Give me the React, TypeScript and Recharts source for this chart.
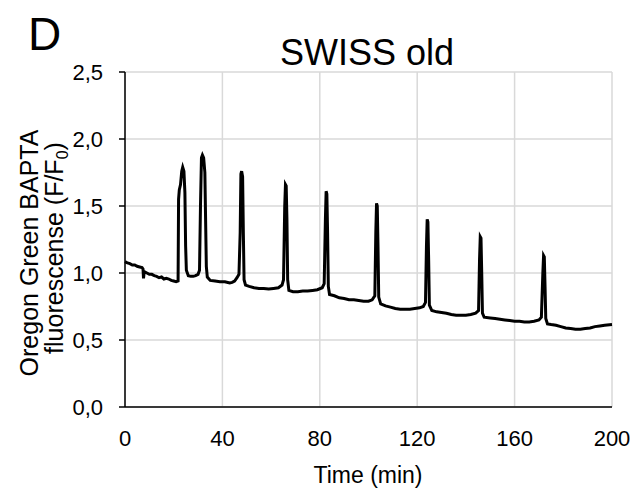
import { LineChart, Line, XAxis, YAxis, CartesianGrid } from 'recharts'

// time (min) and Oregon Green BAPTA F/F0
const TIME = [
  0, 1, 2, 3, 4, 5, 6, 7, 7.4, 7.6, 7.9, 9, 10, 11, 12, 13, 14, 15, 16, 17, 18, 19, 20, 21, 21.8,
  22.0, 22.3, 22.8, 23.3, 23.7, 24.2, 24.6, 24.9, 25.2, 26, 27, 28, 29, 30, 30.6,
  31.0, 31.4, 31.8, 32.3, 32.8, 33.1, 33.4, 33.8, 35, 37, 39, 41, 43, 44, 45, 46, 46.8,
  47.3, 47.6, 47.9, 48.3, 48.6, 48.9, 49.5, 51, 53, 55, 57, 59, 61, 63, 64.5, 65.1,
  65.6, 65.9, 66.2, 66.5, 66.8, 67.3, 69, 71, 73, 75, 77, 79, 81, 81.8,
  82.3, 82.6, 82.9, 83.2, 83.5, 84, 86, 88, 90, 92, 94, 96, 98, 100, 101.5, 102.6,
  103.0, 103.3, 103.6, 103.9, 104.2, 105, 107, 109, 111, 113, 115, 117, 119, 121, 122.5, 123.4,
  123.8, 124.1, 124.4, 124.7, 125, 126, 128, 130, 132, 134, 136, 138, 140, 142, 144, 145.2,
  145.6, 145.9, 146.2, 146.5, 146.8, 147.5, 150, 152, 154, 156, 158, 160, 162, 164, 166, 168, 170, 171,
  171.6, 171.9, 172.2, 172.5, 172.8, 173.5, 175, 177, 179, 181, 183, 185, 187, 189, 191, 193, 195, 197, 200,
]
const RATIO = [
  1.085, 1.075, 1.07, 1.06, 1.06, 1.05, 1.045, 1.04, 1.03, 0.96, 1.01, 1.0, 0.99, 0.99, 0.98, 0.975, 0.965, 0.97, 0.955, 0.96, 0.955, 0.945, 0.94, 0.935, 0.94,
  1.55, 1.62, 1.66, 1.76, 1.79, 1.76, 1.6, 1.2, 1.02, 0.98, 0.975, 0.975, 0.98, 0.99, 1.02,
  1.5, 1.86, 1.88, 1.86, 1.75, 1.4, 1.05, 0.97, 0.945, 0.94, 0.935, 0.935, 0.925, 0.93, 0.94, 0.965, 0.99,
  1.3, 1.74, 1.76, 1.72, 1.3, 0.95, 0.91, 0.9, 0.89, 0.885, 0.885, 0.88, 0.885, 0.89, 0.91, 0.95,
  1.5, 1.66, 1.65, 1.4, 0.95, 0.87, 0.86, 0.86, 0.865, 0.865, 0.87, 0.875, 0.89, 0.92,
  1.4, 1.61, 1.59, 1.3, 0.9, 0.84, 0.83, 0.815, 0.81, 0.8, 0.8, 0.795, 0.79, 0.79, 0.8, 0.83,
  1.3, 1.52, 1.5, 1.2, 0.82, 0.77, 0.755, 0.745, 0.735, 0.73, 0.73, 0.73, 0.735, 0.74, 0.75, 0.78,
  1.2, 1.4, 1.38, 1.1, 0.76, 0.72, 0.71, 0.705, 0.7, 0.69, 0.685, 0.685, 0.685, 0.69, 0.7, 0.72,
  1.1, 1.27, 1.26, 1.0, 0.7, 0.67, 0.665, 0.66, 0.655, 0.65, 0.645, 0.64, 0.64, 0.635, 0.635, 0.64, 0.65, 0.67,
  1.0, 1.13, 1.12, 0.9, 0.66, 0.62, 0.615, 0.61, 0.6, 0.59, 0.585, 0.58, 0.58, 0.585, 0.59, 0.6, 0.605, 0.61, 0.615,
]
const X_TICKS = [0, 40, 80, 120, 160, 200]
const Y_TICKS = [0, 0.5, 1, 1.5, 2, 2.5]

const data = TIME.map((t, i) => ({ t, v: RATIO[i] }))

const FONT = '"Liberation Sans", Arial, sans-serif'
const tickStyle = { fill: '#000', fontSize: 22, fontFamily: FONT }

export default function App() {
  return (
    <div style={{ position: 'absolute', left: 0, top: 0 }}>
      <LineChart width={634} height={490} data={data} margin={{ top: 72, right: 22, left: 0, bottom: 0 }}>
        <CartesianGrid stroke="#d9d9d9" strokeWidth={1.5} />
        <XAxis
          dataKey="t"
          type="number"
          domain={[0, 200]}
          ticks={X_TICKS}
          height={83}
          tickLine={false}
          tickSize={6}
          tickMargin={17}
          axisLine={{ stroke: '#000', strokeWidth: 1.5 }}
          tick={tickStyle}
        />
        <YAxis
          type="number"
          domain={[0, 2.5]}
          ticks={Y_TICKS}
          width={125}
          tickSize={6}
          tickMargin={16}
          tickLine={{ stroke: '#000', strokeWidth: 1.5 }}
          axisLine={{ stroke: '#000', strokeWidth: 1.5 }}
          tick={tickStyle}
          tickFormatter={(v: number) => v.toFixed(1).replace('.', ',')}
        />
        <Line
          type="linear"
          dataKey="v"
          stroke="#000"
          strokeWidth={3}
          dot={false}
          isAnimationActive={false}
        />
        <text x={28} y={50} fontSize={46} fontFamily={FONT} fill="#000">D</text>
        <text x={367} y={65} fontSize={36} fontFamily={FONT} fill="#000" textAnchor="middle">SWISS old</text>
        <text x={368} y={483} fontSize={23} fontFamily={FONT} fill="#000" textAnchor="middle">Time (min)</text>
        <text
          transform="translate(38,253) rotate(-90)"
          fontSize={25}
          fontFamily={FONT}
          fill="#000"
          textAnchor="middle"
        >
          Oregon Green BAPTA
        </text>
        <text
          transform="translate(63,248) rotate(-90)"
          fontSize={25}
          fontFamily={FONT}
          fill="#000"
          textAnchor="middle"
        >
          fluorescense (F/F
          <tspan fontSize={16} dy={5}>0</tspan>
          <tspan dy={-5}>)</tspan>
        </text>
      </LineChart>
    </div>
  )
}
